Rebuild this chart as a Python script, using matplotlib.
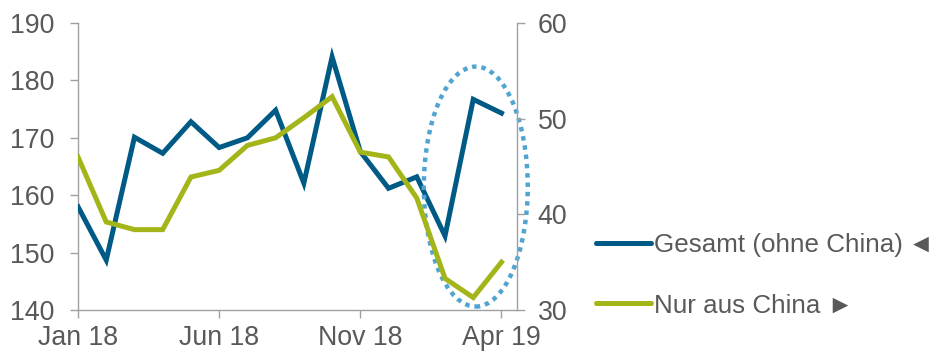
import numpy as np
import matplotlib
matplotlib.use("Agg")
import matplotlib.pyplot as plt
from matplotlib.patches import Ellipse
from matplotlib.lines import Line2D

plt.rcParams['font.family'] = ['Liberation Sans', 'DejaVu Sans']

# monthly values Jan 18 .. Apr 19
months = ["Jan 18", "Feb 18", "Mar 18", "Apr 18", "May 18", "Jun 18", "Jul 18", "Aug 18",
          "Sep 18", "Oct 18", "Nov 18", "Dec 18", "Jan 19", "Feb 19", "Mar 19", "Apr 19"]
gesamt = [158.0, 148.7, 170.1, 167.3, 172.8, 168.3, 170.0, 174.8,
          162.1, 184.1, 167.6, 161.2, 163.2, 152.9, 176.7, 174.3]
china = [46.0, 39.2, 38.4, 38.4, 43.9, 44.6, 47.2, 48.0,
         50.1, 52.3, 46.5, 46.0, 41.7, 33.3, 31.3, 35.0]
tick_labels = ["Jan 18", "Jun 18", "Nov 18", "Apr 19"]
tick_idx = [0, 5, 10, 15]

BLUE = "#005A86"
GREEN = "#A4B51A"
DOTS = "#4FA4D0"
TXT = "#595959"
SPINE = "#A0A0A0"
FS = 19.3

fig = plt.figure(figsize=(9.41, 3.53), dpi=100)
ax = fig.add_axes([78/941, 43/353, 439/941, 287/353])
ax2 = ax.twinx()

x = np.arange(len(months))
ax.plot(x, gesamt, color=BLUE, lw=3.6, solid_joinstyle='miter', zorder=3)
ax2.plot(x, china, color=GREEN, lw=3.6, solid_joinstyle='miter', zorder=2)

ax.set_xlim(0, 15.55)
ax.set_ylim(140, 190)
ax2.set_ylim(30, 60)
ax.set_yticks(np.arange(140, 191, 10))
ax2.set_yticks([30, 40, 50, 60])
ax.set_xticks(tick_idx)
ax.set_xticklabels(tick_labels)

for a in (ax, ax2):
    a.spines['top'].set_visible(False)
    for s in a.spines.values():
        s.set_color(SPINE)
        s.set_linewidth(1.0)
    a.tick_params(colors=SPINE, labelcolor=TXT, labelsize=FS, length=6, width=1.0)
ax.spines['right'].set_visible(False)
ax2.spines['left'].set_visible(False)
ax2.spines['bottom'].set_visible(False)
ax.tick_params(axis='x', pad=5)
ax.tick_params(axis='y', pad=11)
ax2.tick_params(axis='y', pad=9)

# dotted ellipse highlighting the last months
ell = Ellipse((14.09, 161.5), 3.68, 41.8, fill=False, edgecolor=DOTS, lw=3.2,
              linestyle=(0, (1, 1.1)), clip_on=False, zorder=5)
ax.add_patch(ell)

handles = [Line2D([], [], color=BLUE, lw=3.6, solid_capstyle='round'),
           Line2D([], [], color=GREEN, lw=3.6, solid_capstyle='round')]
fig.legend(handles, ["Gesamt (ohne China)\u2009◄", "Nur aus China ►"],
           loc='upper left', bbox_to_anchor=(596/941, 1 - 233/353), frameon=False,
           fontsize=18.7, labelcolor=TXT, handlelength=2.1, handletextpad=0.15,
           labelspacing=1.4, borderaxespad=0, borderpad=0)

fig.savefig("out.png", dpi=100)
